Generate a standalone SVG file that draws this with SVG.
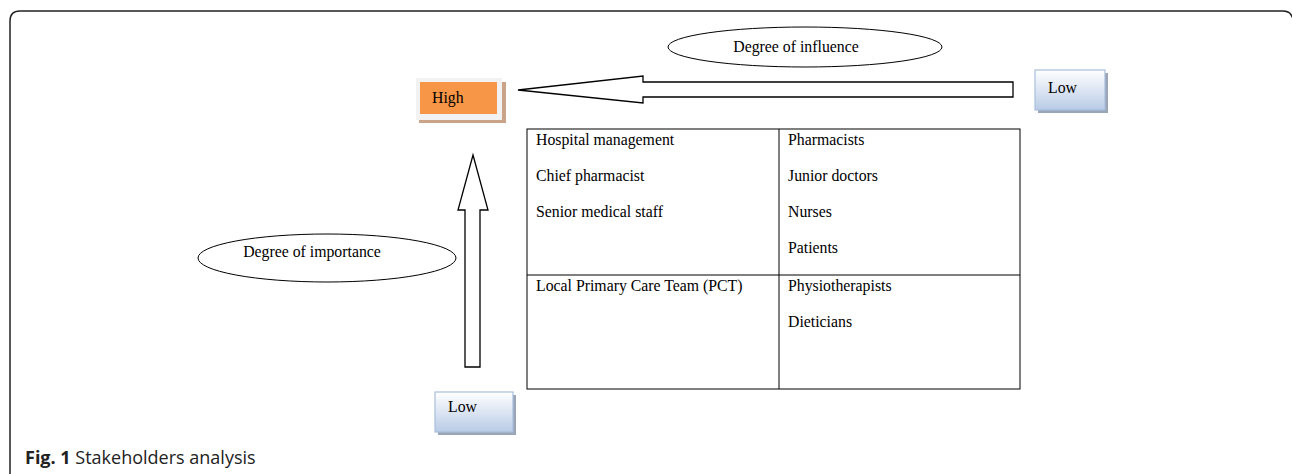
<svg xmlns="http://www.w3.org/2000/svg" width="1292" height="474" viewBox="0 0 1292 474">
<defs>
<linearGradient id="blueg" x1="0" y1="0" x2="0" y2="1">
<stop offset="0" stop-color="#ffffff"/>
<stop offset="1" stop-color="#b9cbe6"/>
</linearGradient>
<style>
.t{font-family:"Liberation Serif",serif;font-size:15.8px;fill:#000}
.ln{fill:none;stroke:#000;stroke-width:1}
.arr{fill:#fff;stroke:#000;stroke-width:1.3}
.low{fill:url(#blueg);stroke:#a9bfdc;stroke-width:1.2}
.cap{font-family:"Open Sans",sans-serif;font-size:18px;fill:#222}
</style>
</defs>
<rect width="1292" height="474" fill="#fff"/>
<path d="M10,480 V21 Q10,11 20,11 H1283 Q1291,11 1293,19" fill="none" stroke="#222" stroke-width="1.5"/>

<g id="connectors">
<path class="arr" d="M518,90 L643,76 L643,82 L1013,82 L1013,97 L643,97 L643,103 Z"/>
<path class="arr" d="M473,155 L488,210 L480,210 L480,367 L465,367 L465,210 L458,210 Z"/>
</g>

<g id="influence">
<ellipse cx="805" cy="47" rx="137" ry="20" class="ln"/>
<text class="t" x="796" y="52" text-anchor="middle">Degree of influence</text>
</g>

<g id="importance">
<ellipse cx="327" cy="258" rx="129" ry="24" class="ln"/>
<text class="t" x="312" y="257" text-anchor="middle">Degree of importance</text>
</g>

<g id="high">
<rect x="419" y="82" width="87" height="41" fill="#c9a489"/>
<rect x="416" y="78" width="86" height="42" fill="#f2f2f2"/>
<rect x="420" y="82" width="77" height="32" fill="#f79646"/>
<text class="t" x="432" y="103">High</text>
</g>

<g id="low-right">
<rect x="1038" y="73" width="70" height="40" fill="#9aa6b6"/>
<rect x="1035" y="70" width="70" height="40" class="low"/>
<text class="t" x="1048" y="93">Low</text>
</g>

<g id="low-bottom">
<rect x="438" y="395" width="78" height="40" fill="#9aa6b6"/>
<rect x="435" y="392" width="78" height="40" class="low"/>
<text class="t" x="448" y="412">Low</text>
</g>

<g id="grid">
<rect x="527" y="129" width="493" height="260" class="ln"/>
<line x1="779" y1="129" x2="779" y2="389" class="ln"/>
<line x1="527" y1="275" x2="1020" y2="275" class="ln"/>
<text class="t" x="536" y="145">Hospital management</text>
<text class="t" x="536" y="181">Chief pharmacist</text>
<text class="t" x="536" y="217">Senior medical staff</text>
<text class="t" x="536" y="291">Local Primary Care Team (PCT)</text>
<text class="t" x="788" y="145">Pharmacists</text>
<text class="t" x="788" y="181">Junior doctors</text>
<text class="t" x="788" y="217">Nurses</text>
<text class="t" x="788" y="253">Patients</text>
<text class="t" x="788" y="291">Physiotherapists</text>
<text class="t" x="788" y="327">Dieticians</text>
</g>

<text class="cap" x="25" y="464"><tspan font-weight="bold">Fig. 1</tspan> Stakeholders analysis</text>
</svg>
